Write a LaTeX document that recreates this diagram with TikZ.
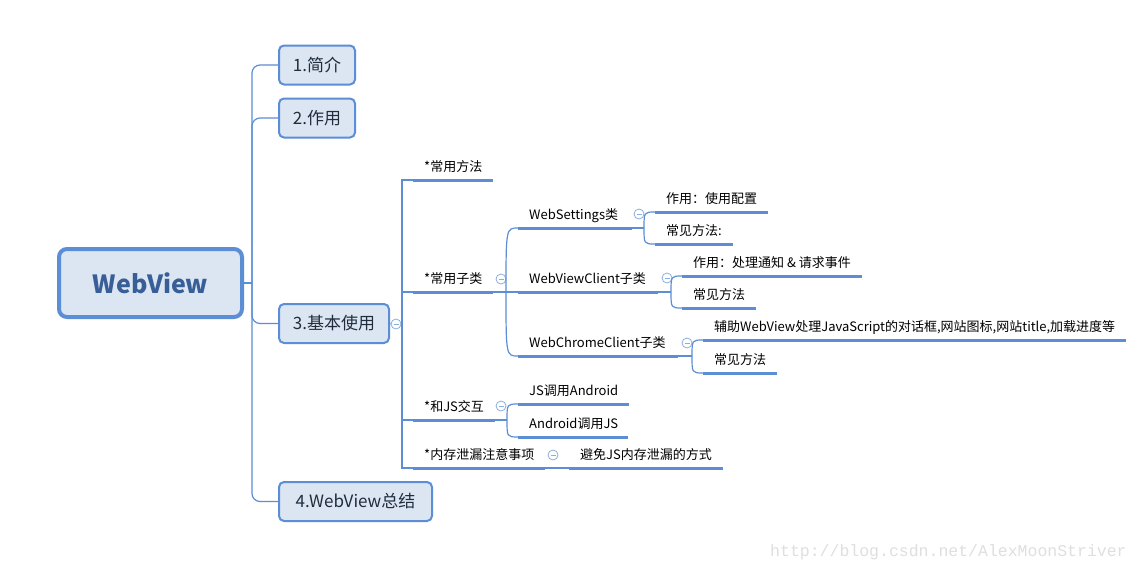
\documentclass[tikz,border=0pt]{standalone}
\usepackage{fontspec}
\setmainfont{Noto Sans CJK SC}
\newfontfamily\wmfont{Liberation Mono}
\usetikzlibrary{positioning}
\definecolor{lineblue}{HTML}{5B8ED5}
\definecolor{foldblue}{HTML}{8AAEE0}
\definecolor{boxfill}{HTML}{DCE6F2}
\definecolor{roottext}{HTML}{375E97}
\definecolor{boxtext}{HTML}{1F2D3D}
\tikzset{
  rootbox/.style={draw=lineblue, line width=4pt, fill=boxfill, rounded corners=8pt,
    minimum width=183pt, minimum height=68pt,
    font=\fontsize{25}{30}\selectfont\bfseries, text=roottext},
  mainbox/.style={draw=lineblue, line width=2pt, fill=boxfill, rounded corners=5pt,
    minimum height=39pt, anchor=west, inner xsep=0pt,
    font=\fontsize{17}{20}\selectfont, text=boxtext},
  topic/.style={anchor=south west, inner xsep=11pt, inner ysep=5pt,
    text height=10pt, text depth=3pt, font=\fontsize{13}{15}\selectfont},
  wide/.style={text width=#1, align=left},
  uline/.style={lineblue, line width=3pt},
  link/.style={lineblue, line width=1.2pt},
  fold/.style={circle, draw=foldblue, line width=0.8pt, fill=white, minimum size=10pt, inner sep=0pt,
    path picture={\draw[foldblue, line width=0.8pt] ([xshift=2.5pt]path picture bounding box.west)
      -- ([xshift=-2.5pt]path picture bounding box.east);}}
}
\begin{document}
\begin{tikzpicture}[x=1pt,y=-1pt]
\path[fill=white, use as bounding box] (0,0) rectangle (1141,570);

% Root and main topics
\node[rootbox] (root) at (150.5,283) {WebView};
\node[mainbox, minimum width=76pt] (b1) at (278,65) {1.简介};
\node[mainbox, minimum width=76pt] (b2) at (278,118) {2.作用};
\node[mainbox, minimum width=110pt] (b3) at (278,323.5) {3.基本使用};
\node[mainbox, minimum width=153pt] (b4) at (278,501.5) {4.WebView总结};

\coordinate (tr) at (252,283);
\draw[link] (root.east) -- (tr);
\foreach \b in {b1,b2,b3,b4}
    \draw[link, rounded corners=8pt] (tr) |- (\b.west);

% 3.基本使用
\node[fold] (c3) at (396,324) {};
\coordinate (t3) at (402,324);
\draw[link] (b3.east) -- (c3) -- (t3);

\node[topic] (fa) at (413,180) {*常用方法};
\node[topic] (zl) at (413,292) {*常用子类};
\node[topic] (js) at (413,420) {*和JS交互};
\node[topic] (nc) at (413,468) {*内存泄漏注意事项};
\foreach \t in {fa,zl,js,nc}
    \draw[link] (t3) |- (\t.south west);

% Common subclasses
\node[fold] (czl) at (501,279) {};
\coordinate (jzl) at (506,292);
\draw[link] (zl.south east) -- (jzl);
\node[topic, wide=92pt] (ws) at (518,228) {WebSettings类};
\node[topic, wide=118pt] (wvc) at (518,292) {WebViewClient子类};
\node[topic, wide=138pt] (wcc) at (518,356) {WebChromeClient子类};
\foreach \t in {ws,wvc,wcc}
    \draw[link] (jzl) .. controls (jzl |- \t.south west) .. (\t.south west);

% WebSettings
\node[fold] (cws) at (639,214) {};
\coordinate (jws) at (644,228);
\draw[link] (ws.south east) -- (jws);
\node[topic] (ws1) at (655,212) {作用：使用配置};
\node[topic] (ws2) at (655,244) {常见方法:};
\foreach \t in {ws1,ws2}
    \draw[link] (jws) .. controls (jws |- \t.south west) .. (\t.south west);

% WebViewClient
\node[fold] (cwv) at (667,278) {};
\coordinate (jwv) at (671,292);
\draw[link] (wvc.south east) -- (jwv);
\node[topic] (wv1) at (682,276) {作用：处理通知 \& 请求事件};
\node[topic] (wv2) at (682,308) {常见方法};
\foreach \t in {wv1,wv2}
    \draw[link] (jwv) .. controls (jwv |- \t.south west) .. (\t.south west);

% WebChromeClient
\node[fold] (cwc) at (687,343) {};
\coordinate (jwc) at (692,356);
\draw[link] (wcc.south east) -- (jwc);
\node[topic] (wc1) at (703,340) {辅助WebView处理JavaScript的对话框,网站图标,网站title,加载进度等};
\node[topic] (wc2) at (703,373) {常见方法};
\foreach \t in {wc1,wc2}
    \draw[link] (jwc) .. controls (jwc |- \t.south west) .. (\t.south west);

% JS interaction
\node[fold] (cjs) at (501,406) {};
\coordinate (jjs) at (507,420);
\draw[link] (js.south east) -- (jjs);
\node[topic, wide=89pt] (js1) at (518,404) {JS调用Android};
\node[topic, wide=88pt] (js2) at (518,437) {Android调用JS};
\foreach \t in {js1,js2}
    \draw[link] (jjs) .. controls (jjs |- \t.south west) .. (\t.south west);

% Memory leak
\node[fold] (cnc) at (553,455) {};
\node[topic] (bm) at (569,468) {避免JS内存泄漏的方式};
\draw[link] (nc.south east) -- (bm.south west);

% Underlines
\foreach \t in {fa,zl,js,nc,bm,ws,wvc,wcc,ws1,ws2,wv1,wv2,wc1,wc2,js1,js2}
    \draw[uline] (\t.south west) -- (\t.south east);

% Watermark
\node[anchor=base west, inner sep=0pt, text=gray!25, font=\wmfont\fontsize{16.5}{18}\selectfont] (wm)
    at (770,556) {http://blog.csdn.net/AlexMoonStriver};
\end{tikzpicture}
\end{document}
